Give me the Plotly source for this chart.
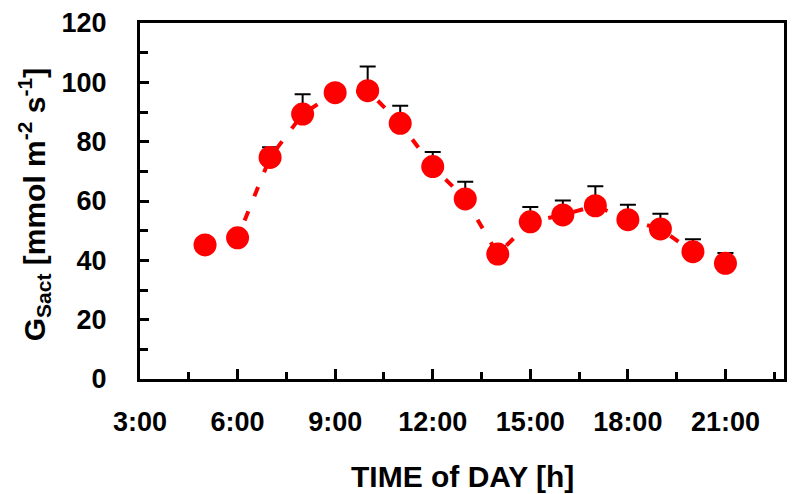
import plotly.graph_objects as go

# Hour of day for each measurement
hours = [5, 6, 7, 8, 9, 10, 11, 12, 13, 14, 15, 16, 17, 18, 19, 20, 21]
# Mean stomatal conductance G_Sact [mmol m-2 s-1]
gsact = [45.2, 47.6, 74.7, 89.3, 96.5, 97.2, 86.2, 71.6, 60.7, 42.1,
         53.0, 55.3, 58.4, 53.7, 50.6, 42.9, 39.0]
# Upper error (standard error)
gsact_err = [2.0, 0.8, 3.4, 6.7, 1.7, 8.1, 5.9, 4.9, 5.8, 2.7,
             5.0, 4.9, 6.6, 5.0, 5.1, 4.2, 3.5]

x_tick_vals = [3, 6, 9, 12, 15, 18, 21]
x_tick_text = ["3:00", "6:00", "9:00", "12:00", "15:00", "18:00", "21:00"]

FONT = "Liberation Sans, Arial, sans-serif"

fig = go.Figure()

# Error bars drawn first so the markers sit on top of them
fig.add_trace(go.Scatter(
    x=hours, y=gsact, mode="markers",
    marker=dict(size=1, color="rgba(0,0,0,0)"),
    error_y=dict(type="data", array=gsact_err, symmetric=False,
                 arrayminus=[0] * len(gsact_err),
                 color="black", thickness=2, width=8),
    hoverinfo="skip", showlegend=False,
))

fig.add_trace(go.Scatter(
    x=hours, y=gsact, mode="lines+markers",
    line=dict(color="#ff0000", width=4, dash="10px,16px"),
    marker=dict(size=23, color="#ff0000"),
    showlegend=False,
))

axis_common = dict(
    showline=True, linecolor="black", linewidth=3, mirror=True,
    ticks="inside", tickcolor="black", tickwidth=3,
    showgrid=False, zeroline=False,
    tickfont=dict(family=FONT, size=27, color="black", weight="bold"),
)

fig.update_xaxes(
    range=[3, 22.8], tickmode="array", tickvals=x_tick_vals,
    ticktext=x_tick_text, ticklen=10, ticklabelstandoff=17,
    minor=dict(dtick=1.5, tick0=3, ticks="inside", ticklen=7,
               tickwidth=3, tickcolor="black", showgrid=False),
    **axis_common,
)
fig.update_yaxes(
    range=[0, 120], dtick=20, ticklen=9, ticklabelstandoff=25,
    minor=dict(dtick=10, ticks="inside", ticklen=8,
               tickwidth=3, tickcolor="black", showgrid=False),
    **axis_common,
)

fig.add_annotation(
    text="TIME of DAY [h]", xref="paper", yref="paper",
    x=0.5, y=-0.275, xanchor="center", yanchor="middle", showarrow=False,
    font=dict(family=FONT, size=30, color="black", weight="bold"),
)
fig.add_annotation(
    text="G<sub>Sact</sub> [mmol m<sup>-2</sup> s<sup>-1</sup>]",
    xref="paper", yref="paper", x=-0.165, y=0.49, textangle=-90,
    xanchor="center", yanchor="middle", showarrow=False,
    font=dict(family=FONT, size=30, color="black", weight="bold"),
)

fig.update_layout(
    width=793, height=494,
    margin=dict(l=140, r=6, t=23, b=115),
    paper_bgcolor="white", plot_bgcolor="white",
)

fig.write_html("out.html")
